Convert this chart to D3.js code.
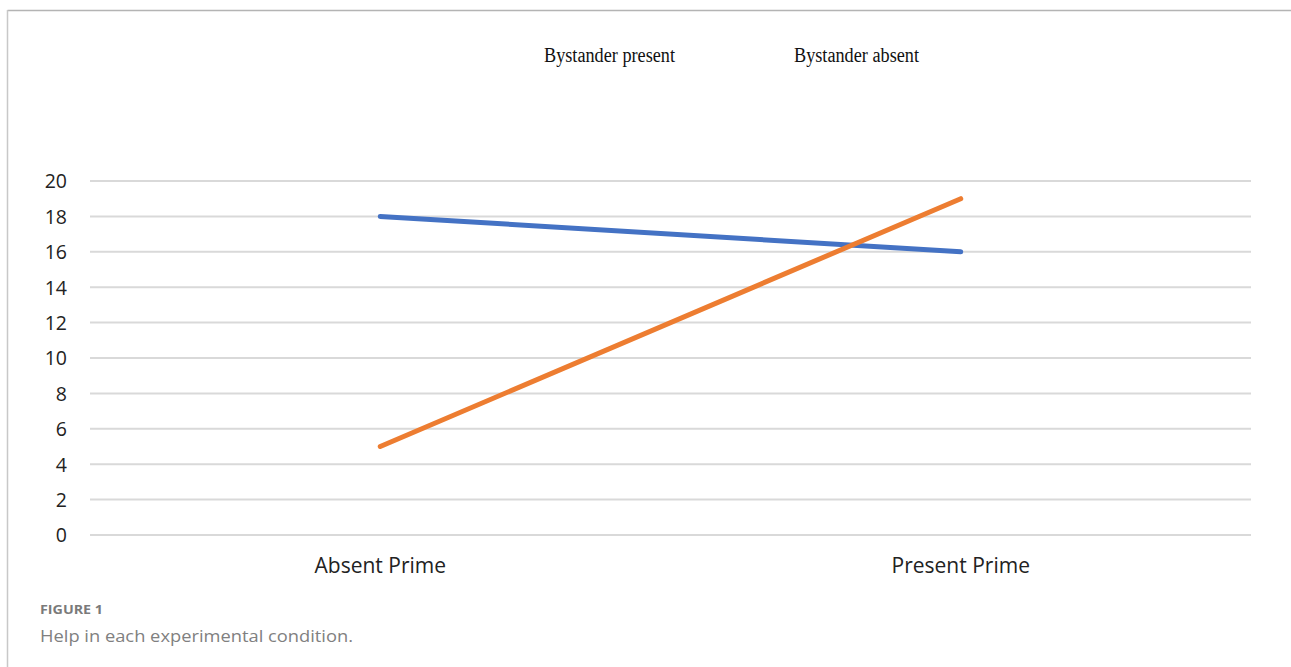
<!DOCTYPE html>
<html>
<head>
<meta charset="utf-8">
<script src="https://cdn.jsdelivr.net/npm/d3@7"></script>
<style>
  html, body { margin: 0; padding: 0; background: #fff; }
  svg { display: block; }
</style>
</head>
<body>
<svg id="chart" width="1291" height="667"></svg>
<script>
// Conditions on the x axis
const categories = ["Absent Prime", "Present Prime"];
// Series names and their values
const seriesNames = ["Bystander present", "Bystander absent"];
const bystanderPresent = [18, 16];
const bystanderAbsent = [5, 19];
// Y axis ticks
const yTicks = [0, 2, 4, 6, 8, 10, 12, 14, 16, 18, 20];

const colors = ["#4472C4", "#ED7D31"];
const series = [
  { name: seriesNames[0], values: bystanderPresent, color: colors[0] },
  { name: seriesNames[1], values: bystanderAbsent, color: colors[1] }
];

const svg = d3.select("#chart");
const W = 1291, H = 667;

// Frame around the figure
svg.append("line").attr("x1", 7.5).attr("x2", W).attr("y1", 10.5).attr("y2", 10.5)
  .attr("stroke", "#b4b4b4").attr("stroke-width", 1.5);
svg.append("line").attr("x1", 7.5).attr("x2", 7.5).attr("y1", 10).attr("y2", H)
  .attr("stroke", "#c8c8c8").attr("stroke-width", 1.5);

const plot = { left: 90, right: 1251, top: 181, bottom: 535 };

const x = d3.scaleBand().domain(categories).range([plot.left, plot.right]);
const y = d3.scaleLinear().domain([0, 20]).range([plot.bottom, plot.top]);

// Horizontal gridlines
svg.append("g").selectAll("line").data(yTicks).join("line")
  .attr("x1", plot.left).attr("x2", plot.right)
  .attr("y1", d => y(d)).attr("y2", d => y(d))
  .attr("stroke", "#d9d9d9").attr("stroke-width", 2);

// Y axis labels
const yAxis = d3.axisLeft(y).tickValues(yTicks).tickSize(0).tickPadding(0);
const gy = svg.append("g").attr("transform", "translate(67,0)").call(yAxis);
gy.select(".domain").remove();
gy.selectAll("text")
  .attr("font-family", "'Open Sans', 'Noto Sans', sans-serif")
  .attr("font-size", 19.5).attr("fill", "#222").attr("dy", "0.35em");

// X axis labels
const xAxis = d3.axisBottom(x).tickSize(0).tickPadding(0);
const gx = svg.append("g").attr("transform", "translate(0,566)").call(xAxis);
gx.select(".domain").remove();
gx.selectAll("text")
  .attr("font-family", "'Open Sans', 'Noto Sans', sans-serif")
  .attr("font-size", 21).attr("fill", "#222").attr("dy", "0.35em");

// Series lines
const line = d3.line()
  .x((d, i) => x(categories[i]) + x.bandwidth() / 2)
  .y(d => y(d));

svg.append("g").selectAll("path").data(series).join("path")
  .attr("d", d => line(d.values))
  .attr("fill", "none")
  .attr("stroke", d => d.color)
  .attr("stroke-width", 5)
  .attr("stroke-linecap", "round")
  .attr("stroke-linejoin", "round");

// Legend (text only)
const legendX = [544, 794];
svg.append("g").selectAll("text").data(series).join("text")
  .attr("x", (d, i) => legendX[i])
  .attr("y", 62)
  .attr("font-family", "'Liberation Serif', 'Times New Roman', serif")
  .attr("font-size", 20)
  .attr("fill", "#111")
  .attr("textLength", (d, i) => i === 0 ? 131 : 125)
  .attr("lengthAdjust", "spacingAndGlyphs")
  .text(d => d.name);

// Caption
svg.append("text").attr("x", 40).attr("y", 614)
  .attr("font-family", "'Open Sans', sans-serif")
  .attr("font-size", 13).attr("font-weight", "bold").attr("fill", "#7a7a7a")
  .attr("textLength", 63).attr("lengthAdjust", "spacingAndGlyphs")
  .text("FIGURE 1");
svg.append("text").attr("x", 40).attr("y", 642)
  .attr("font-family", "'Open Sans', sans-serif")
  .attr("font-size", 17).attr("fill", "#808080")
  .attr("textLength", 313).attr("lengthAdjust", "spacingAndGlyphs")
  .text("Help in each experimental condition.");
</script>
</body>
</html>
